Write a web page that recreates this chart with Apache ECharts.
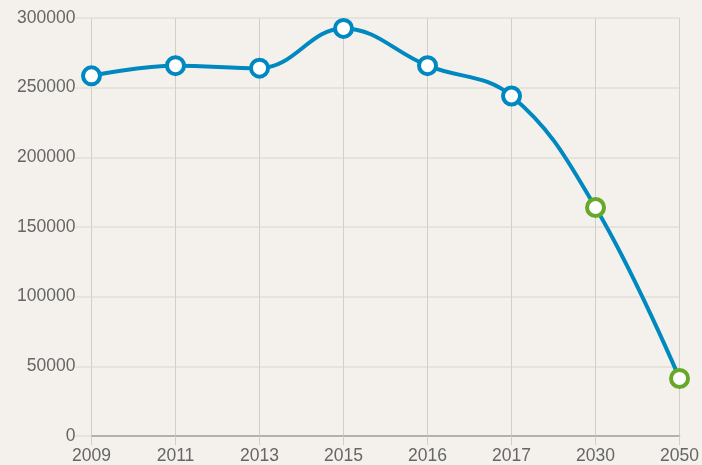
<!DOCTYPE html>
<html><head><meta charset="utf-8">
<script src="https://cdn.jsdelivr.net/npm/echarts@6/dist/echarts.min.js"></script>
<style>html,body{margin:0;padding:0;background:#f4f1ec;}#c{width:702px;height:465px;}</style>
</head><body><div id="c"></div>
<script>
const categories = ['2009','2011','2013','2015','2016','2017','2030','2050'];
const values = [258500, 265800, 264000, 292500, 265800, 244000, 164000, 41300];
const forecastFrom = 6;
const yTicks = [0, 50000, 100000, 150000, 200000, 250000, 300000];

const chart = echarts.init(document.getElementById('c'), null, {renderer:'canvas'});
const hColor = '#e2ded8';
const vColor = '#d2cec8';
const font = 'Arial, "Liberation Sans", sans-serif';
chart.setOption({
  backgroundColor: '#f4f1ec',
  animation: false,
  grid: {left: 91.5, right: 22, top: 18, bottom: 29, containLabel: false},
  xAxis: {
    type: 'category', data: categories, boundaryGap: false,
    axisLine: {lineStyle: {color: '#a4a19c', width: 1.5}},
    axisTick: {show: true, length: 9, lineStyle: {color: vColor}},
    axisLabel: {color: '#666', fontSize: 17.5, fontFamily: font, margin: 11},
    splitLine: {show: true, lineStyle: {color: vColor, width: 1}}
  },
  yAxis: {
    type: 'value', min: yTicks[0], max: yTicks[yTicks.length-1], interval: 50000,
    axisLine: {show: true, lineStyle: {color: vColor}},
    axisTick: {show: true, length: 16, lineStyle: {color: hColor, width: 1.5}},
    axisLabel: {color: '#666', fontSize: 17.5, fontFamily: font, margin: 16,
      formatter: v => String(v)},
    splitLine: {show: true, lineStyle: {color: hColor, width: 1.5}}
  },
  series: [{
    type: 'line', smooth: 0.4, data: values.map((v,i)=>({
      value: v,
      itemStyle: {borderColor: i >= forecastFrom ? '#68a828' : '#0088c0'}
    })),
    symbol: 'circle', symbolSize: 17,
    lineStyle: {color: '#0088c0', width: 4},
    itemStyle: {color: '#ffffff', borderColor: '#0088c0', borderWidth: 4}
  }]
});
</script></body></html>
